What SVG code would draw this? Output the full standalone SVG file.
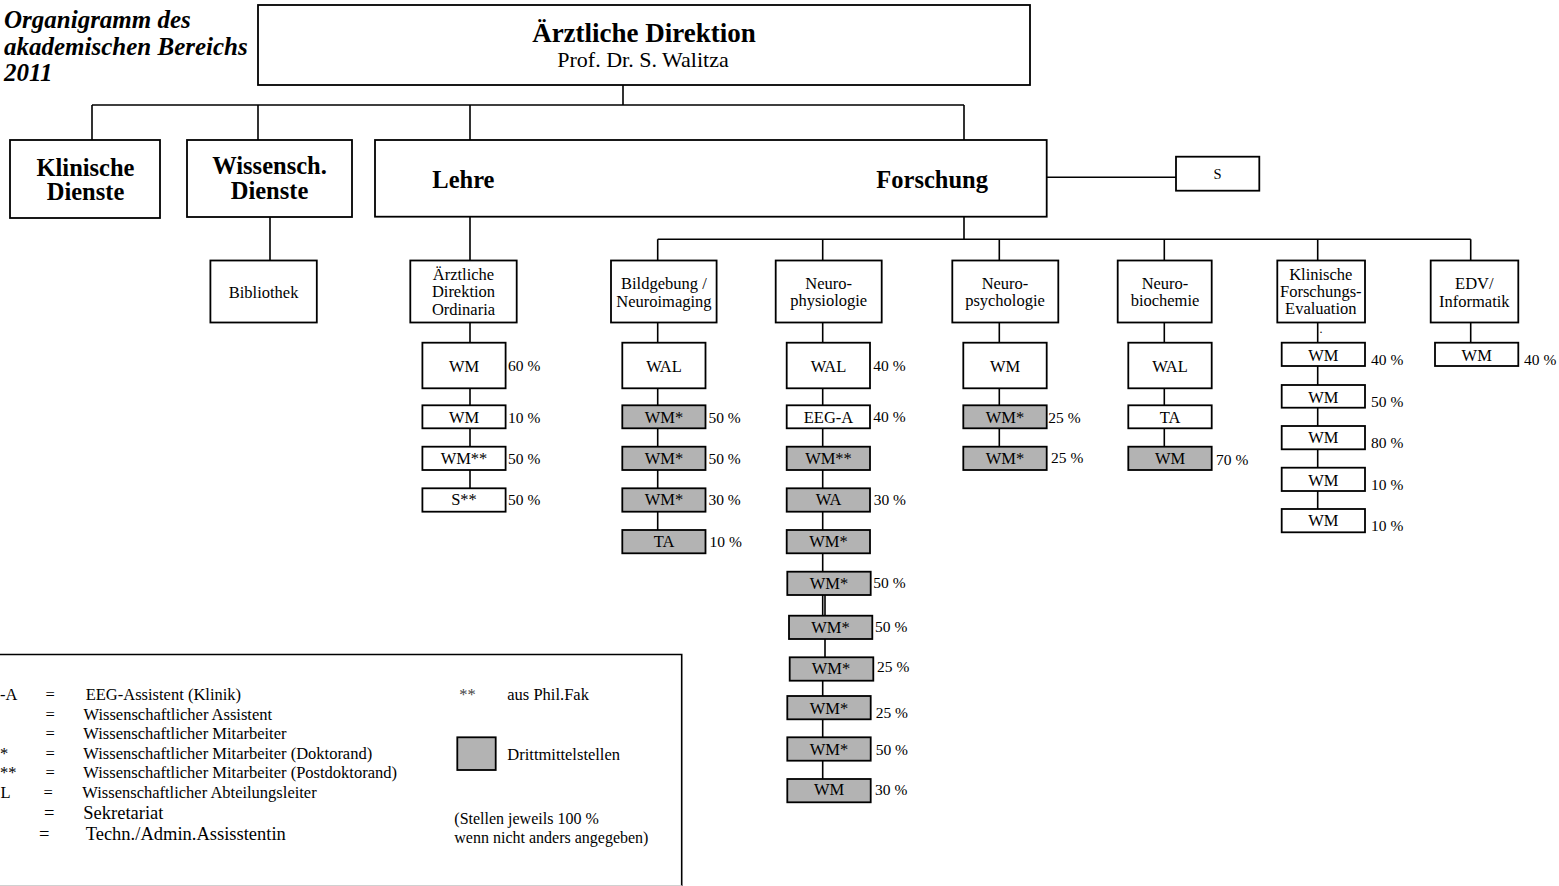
<svg xmlns="http://www.w3.org/2000/svg" width="1559" height="886" viewBox="0 0 1559 886">
<style>
.bx{fill:#fff;stroke:#000;stroke-width:1.8}
.gb{fill:#b3b3b3;stroke:#000;stroke-width:1.8}
.ln{fill:none;stroke:#000;stroke-width:1.6}
text{font-family:"Liberation Serif","Times New Roman",serif;fill:#000}
.t{font-size:16.5px;text-anchor:middle}
.h{font-size:24.5px;font-weight:bold;text-anchor:middle}
.p{font-size:15.5px}
.lg{font-size:16.5px}
.lg2{font-size:18.5px}
.ti{font-size:25px;font-weight:bold;font-style:italic}
</style>
<rect width="1559" height="886" fill="#fff"/>

<g id="title">
<text class="ti" x="4" y="28">Organigramm des</text>
<text class="ti" x="4" y="54.5">akademischen Bereichs</text>
<text class="ti" x="4" y="81">2011</text>
</g>

<g id="connectors">
<path class="ln" d="M623 85V105M92 105H964M92 105V140M258 105V140M470 105V140M964 105V140"/>
<path class="ln" d="M270 217V261M470 216.7V261M964 216.7V239.3M657.7 239.3H1470.7"/>
<path class="ln" d="M657.7 239.3V261M822.7 239.3V261M999.3 239.3V261M1164.3 239.3V261M1317.7 239.3V261M1470.7 239.3V261"/>
<path class="ln" d="M1046.7 177.3H1176"/>
<path class="ln" d="M470 322.5V489M657.7 322.5V530M822.7 322.5V615M825 595V658M822.7 680V779M999.3 322.5V447M1164.3 322.5V447M1317.7 322.5V509M1470.7 322.5V343"/>
</g>

<g id="aerztliche-direktion">
<rect class="bx" x="258" y="5" width="772" height="80"/>
<text x="644" y="42" style="font-size:27px;font-weight:bold;text-anchor:middle">Ärztliche Direktion</text>
<text x="643" y="67" style="font-size:22px;text-anchor:middle">Prof. Dr. S. Walitza</text>
</g>

<g id="klinische-dienste">
<rect class="bx" x="10" y="140" width="150" height="78"/>
<text class="h" x="85.5" y="176">Klinische</text>
<text class="h" x="85.5" y="200">Dienste</text>
</g>

<g id="wissensch-dienste">
<rect class="bx" x="187" y="140" width="165" height="77"/>
<text class="h" x="269.5" y="174">Wissensch.</text>
<text class="h" x="269.5" y="199">Dienste</text>
</g>

<g id="lehre-forschung">
<rect class="bx" x="375" y="140" width="671.7" height="76.7"/>
<text class="h" x="432.3" y="188" style="text-anchor:start">Lehre</text>
<text class="h" x="876.3" y="188" style="text-anchor:start">Forschung</text>
</g>

<g id="sekretariat">
<rect class="bx" x="1176" y="156.7" width="83.3" height="34"/>
<text class="t" x="1217.5" y="179.3" style="font-size:14.5px">S</text>
</g>

<g id="bibliothek">
<rect class="bx" x="210.4" y="260.5" width="106.4" height="62"/>
<text class="t" x="263.6" y="297.5">Bibliothek</text>
</g>

<g id="ordinaria">
<rect class="bx" x="410.3" y="260.5" width="106.4" height="62"/>
<text class="t" x="463.5" y="279.5">Ärztliche</text>
<text class="t" x="463.5" y="297">Direktion</text>
<text class="t" x="463.5" y="314.5">Ordinaria</text>
</g>
<g id="lehre-stellen">
<rect class="bx" x="422.4" y="342.7" width="83.2" height="45.6"/>
<text class="t" x="464" y="372">WM</text>
<text class="p" x="508" y="370.5">60 %</text>
<rect class="bx" x="422.4" y="405.3" width="83.2" height="23"/>
<text class="t" x="464" y="422.8">WM</text>
<text class="p" x="508" y="422.7">10 %</text>
<rect class="bx" x="422.4" y="446.7" width="83.2" height="23.3"/>
<text class="t" x="464" y="463.8">WM**</text>
<text class="p" x="508" y="463.7">50 %</text>
<rect class="bx" x="422.4" y="488.3" width="83.2" height="23.4"/>
<text class="t" x="464" y="505.3">S**</text>
<text class="p" x="508" y="504.5">50 %</text>
</g>

<g id="bildgebung">
<rect class="bx" x="611" y="260.5" width="105.6" height="62"/>
<text class="t" x="663.9" y="288.5">Bildgebung /</text>
<text class="t" x="663.9" y="306.5">Neuroimaging</text>
</g>
<g id="bildgebung-stellen">
<rect class="bx" x="622.3" y="342.7" width="83.2" height="45.6"/>
<text class="t" x="664" y="372">WAL</text>
<rect class="gb" x="622.3" y="405.3" width="83.2" height="23"/>
<text class="t" x="664" y="422.8">WM*</text>
<text class="p" x="708.4" y="422.7">50 %</text>
<rect class="gb" x="622.3" y="446.7" width="83.2" height="23.3"/>
<text class="t" x="664" y="463.8">WM*</text>
<text class="p" x="708.4" y="463.7">50 %</text>
<rect class="gb" x="622.3" y="488.3" width="83.2" height="23.4"/>
<text class="t" x="664" y="505.3">WM*</text>
<text class="p" x="708.4" y="504.5">30 %</text>
<rect class="gb" x="622.3" y="530" width="83.2" height="23.3"/>
<text class="t" x="664" y="547">TA</text>
<text class="p" x="709.5" y="547">10 %</text>
</g>

<g id="neurophysiologie">
<rect class="bx" x="775.7" y="260.5" width="106" height="62"/>
<text class="t" x="828.7" y="288.5">Neuro-</text>
<text class="t" x="828.7" y="306">physiologie</text>
</g>
<g id="neurophysiologie-stellen">
<rect class="bx" x="786.7" y="342.7" width="83.3" height="45.6"/>
<text class="t" x="828.5" y="372">WAL</text>
<text class="p" x="873.3" y="370.5">40 %</text>
<rect class="bx" x="786.7" y="405.3" width="83.3" height="23"/>
<text class="t" x="828.5" y="422.8">EEG-A</text>
<text class="p" x="873.3" y="421.5">40 %</text>
<rect class="gb" x="786.7" y="446.7" width="83.3" height="23.3"/>
<text class="t" x="828.5" y="463.8">WM**</text>
<rect class="gb" x="786.7" y="488.3" width="83.3" height="23.4"/>
<text class="t" x="828.5" y="505.3">WA</text>
<text class="p" x="873.7" y="504.5">30 %</text>
<rect class="gb" x="786.7" y="530" width="83.3" height="23.3"/>
<text class="t" x="828.5" y="547">WM*</text>
<rect class="gb" x="787.3" y="571.7" width="83.4" height="23.3"/>
<text class="t" x="829" y="588.7">WM*</text>
<text class="p" x="873.3" y="588">50 %</text>
<rect class="gb" x="789" y="615.7" width="83.3" height="23.3"/>
<text class="t" x="830.5" y="632.7">WM*</text>
<text class="p" x="875" y="631.5">50 %</text>
<rect class="gb" x="789.7" y="657.3" width="83.6" height="23.4"/>
<text class="t" x="831" y="673.7">WM*</text>
<text class="p" x="877" y="672">25 %</text>
<rect class="gb" x="787.3" y="696" width="83.4" height="23.3"/>
<text class="t" x="829" y="713.7">WM*</text>
<text class="p" x="875.7" y="718">25 %</text>
<rect class="gb" x="787.3" y="737.3" width="83.4" height="23.4"/>
<text class="t" x="829" y="754.7">WM*</text>
<text class="p" x="875.7" y="755">50 %</text>
<rect class="gb" x="787.3" y="779" width="83.4" height="23.3"/>
<text class="t" x="829" y="795.3">WM</text>
<text class="p" x="875" y="795">30 %</text>
</g>

<g id="neuropsychologie">
<rect class="bx" x="952.3" y="260.5" width="106" height="62"/>
<text class="t" x="1005" y="288.5">Neuro-</text>
<text class="t" x="1005" y="306">psychologie</text>
</g>
<g id="neuropsychologie-stellen">
<rect class="bx" x="963.3" y="342.7" width="83.4" height="45.6"/>
<text class="t" x="1005" y="372">WM</text>
<rect class="gb" x="963.3" y="405.3" width="83.4" height="23"/>
<text class="t" x="1005" y="422.8">WM*</text>
<text class="p" x="1048.3" y="422.7">25 %</text>
<rect class="gb" x="963.3" y="446.7" width="83.4" height="23.3"/>
<text class="t" x="1005" y="463.8">WM*</text>
<text class="p" x="1051" y="462.7">25 %</text>
</g>

<g id="neurobiochemie">
<rect class="bx" x="1117.7" y="260.5" width="94" height="62"/>
<text class="t" x="1165" y="288.5">Neuro-</text>
<text class="t" x="1165" y="306">biochemie</text>
</g>
<g id="neurobiochemie-stellen">
<rect class="bx" x="1128.3" y="342.7" width="83.4" height="45.6"/>
<text class="t" x="1170" y="372">WAL</text>
<rect class="bx" x="1128.3" y="405.3" width="83.4" height="23"/>
<text class="t" x="1170" y="422.8">TA</text>
<rect class="gb" x="1128.3" y="446.7" width="83.4" height="23.3"/>
<text class="t" x="1170" y="463.8">WM</text>
<text class="p" x="1216" y="464.7">70 %</text>
</g>

<g id="klinische-forschungs-evaluation">
<rect class="bx" x="1277.3" y="260.5" width="87.7" height="62"/>
<text class="t" x="1320.8" y="279.5">Klinische</text>
<text class="t" x="1320.8" y="296.8">Forschungs-</text>
<text class="t" x="1320.8" y="314">Evaluation</text>
<text x="1319.5" y="333" style="font-size:12px">.</text>
</g>
<g id="kfe-stellen">
<rect class="bx" x="1281.7" y="342.7" width="83.3" height="23.3"/>
<text class="t" x="1323.4" y="360.5">WM</text>
<text class="p" x="1371" y="364.7">40 %</text>
<rect class="bx" x="1281.7" y="385" width="83.3" height="22.7"/>
<text class="t" x="1323.4" y="402.7">WM</text>
<text class="p" x="1371" y="406.5">50 %</text>
<rect class="bx" x="1281.7" y="426" width="83.3" height="23.3"/>
<text class="t" x="1323.4" y="443">WM</text>
<text class="p" x="1371" y="447.8">80 %</text>
<rect class="bx" x="1281.7" y="467.7" width="83.3" height="23.3"/>
<text class="t" x="1323.4" y="485.5">WM</text>
<text class="p" x="1371" y="489.5">10 %</text>
<rect class="bx" x="1281.7" y="509" width="83.3" height="23.3"/>
<text class="t" x="1323.4" y="526">WM</text>
<text class="p" x="1371" y="530.5">10 %</text>
</g>

<g id="edv-informatik">
<rect class="bx" x="1430.7" y="260.5" width="87.6" height="62"/>
<text class="t" x="1474.3" y="288.5">EDV/</text>
<text class="t" x="1474.3" y="306.5">Informatik</text>
</g>
<g id="edv-stellen">
<rect class="bx" x="1435" y="342.7" width="83.3" height="23.3"/>
<text class="t" x="1476.7" y="360.5">WM</text>
<text class="p" x="1524" y="364.7">40 %</text>
</g>

<g id="legende">
<path d="M-3 654.5H681.7V887" fill="none" stroke="#000" stroke-width="1.6"/>
<path d="M-3 885.5H681.7" fill="none" stroke="#d0d0d0" stroke-width="1"/>
<text class="lg" x="0" y="699.5">-A</text>
<text class="lg" x="45.5" y="699.5">=</text>
<text class="lg" x="85.7" y="699.5">EEG-Assistent (Klinik)</text>
<text class="lg" x="45.5" y="720">=</text>
<text class="lg" x="83.5" y="720">Wissenschaftlicher Assistent</text>
<text class="lg" x="45.5" y="739">=</text>
<text class="lg" x="83.3" y="739">Wissenschaftlicher Mitarbeiter</text>
<text class="lg" x="0" y="759">*</text>
<text class="lg" x="45.5" y="759">=</text>
<text class="lg" x="83.3" y="759">Wissenschaftlicher Mitarbeiter (Doktorand)</text>
<text class="lg" x="0" y="778">**</text>
<text class="lg" x="45.5" y="778">=</text>
<text class="lg" x="83.3" y="778">Wissenschaftlicher Mitarbeiter (Postdoktorand)</text>
<text class="lg" x="0.5" y="798">L</text>
<text class="lg" x="43.5" y="798">=</text>
<text class="lg" x="82.3" y="798">Wissenschaftlicher Abteilungsleiter</text>
<text class="lg2" x="44" y="819">=</text>
<text class="lg2" x="83.3" y="819">Sekretariat</text>
<text class="lg2" x="39" y="839.5">=</text>
<text class="lg2" x="85.7" y="839.5">Techn./Admin.Assisstentin</text>
<text class="lg" x="459.3" y="700" style="fill:#444">**</text>
<text class="lg" x="507.3" y="700">aus Phil.Fak</text>
<rect class="gb" x="457.3" y="737.3" width="38.4" height="32.7"/>
<text class="lg" x="507.3" y="760">Drittmittelstellen</text>
<text x="454.3" y="824" style="font-size:16px">(Stellen jeweils 100 %</text>
<text x="454.3" y="843" style="font-size:16px">wenn nicht anders angegeben)</text>
</g>
</svg>
